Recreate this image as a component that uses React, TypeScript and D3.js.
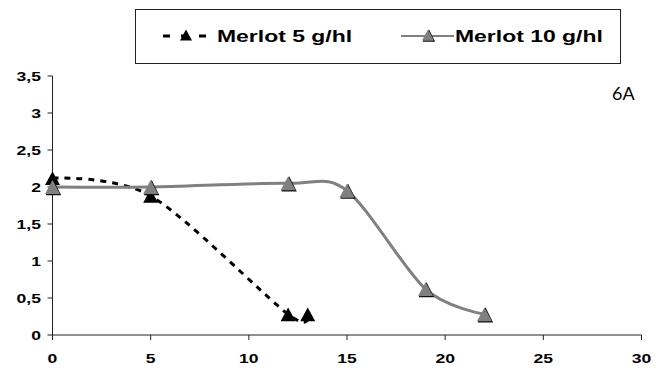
import React from "react";
import * as d3 from "d3";

const days5 = [0, 5, 12, 13];
const vals5 = [2.12, 1.88, 0.28, 0.28];
const days10 = [0, 5, 12, 15, 19, 22];
const vals10 = [2.0, 2.0, 2.05, 1.95, 0.62, 0.28];
const xTicks = [0, 5, 10, 15, 20, 25, 30];
const yTicks = [0, 0.5, 1, 1.5, 2, 2.5, 3, 3.5];
const yTickLabels = ["0", "0,5", "1", "1,5", "2", "2,5", "3", "3,5"];
const seriesNames = ["Merlot 5 g/hl", "Merlot 10 g/hl"];
const panelLabel = "6A";

const W = 663;
const H = 369;
const GRAY = "#808080";
const FONT = "'Liberation Sans', Arial, sans-serif";
const SX = 1.35;

function SText({ x, y, children, anchor = "start", size = 13, weight = "bold", sx = SX, family = FONT }: any) {
  return (
    <text
      transform={`translate(${x},${y}) scale(${sx},1)`}
      textAnchor={anchor}
      fontFamily={family}
      fontSize={size}
      fontWeight={weight}
      fill="#000"
    >
      {children}
    </text>
  );
}

function Tri({ cx, cy, fill, s = 13 }: any) {
  const h = s * 0.92;
  const p = `M${cx},${cy - h / 2} L${cx + s / 2},${cy + h / 2} L${cx - s / 2},${cy + h / 2} Z`;
  return (
    <g>
      {fill !== "#000" && (
        <path d={`M${cx - s / 2 + 1},${cy + h / 2 + 0.5} L${cx + s / 2},${cy + h / 2 + 0.5} L${cx + 0.5},${cy - h / 2 + 0.5}`} fill="none" stroke="#111" strokeWidth={1.5} />
      )}
      <path d={p} fill={fill} />
    </g>
  );
}

export default function App() {
  const x = d3.scaleLinear().domain([0, 30]).range([52.5, 641.5]);
  const y = d3.scaleLinear().domain([0, 3.5]).range([335, 76]);
  const line = d3
    .line<[number, number]>()
    .x((d) => x(d[0]))
    .y((d) => y(d[1]))
    .curve(d3.curveCardinal.tension(0.1));
  const pts5: [number, number][] = days5.map((d, i) => [d, vals5[i]]);
  const pts10: [number, number][] = days10.map((d, i) => [d, vals10[i]]);

  return (
    <svg width={W} height={H} style={{ position: "absolute", left: 0, top: 0, background: "#fff" }}>
      {/* legend */}
      <rect x={135.5} y={9.5} width={485} height={54} fill="#fff" stroke="#222" strokeWidth={1} />
      <line x1={163} x2={209} y1={36} y2={36} stroke="#000" strokeWidth={3} strokeDasharray="7,11" />
      <Tri cx={186} cy={35} fill="#000" s={12} />
      <SText x={217} y={42} size={17} sx={SX}>{seriesNames[0]}</SText>
      <line x1={401} x2={454} y1={36} y2={36} stroke={GRAY} strokeWidth={2} />
      <Tri cx={428} cy={35} fill={GRAY} s={12} />
      <SText x={455} y={42} size={17} sx={SX}>{seriesNames[1]}</SText>

      {/* axes */}
      <line x1={x(0)} x2={x(0)} y1={y(3.5)} y2={y(0)} stroke="#222" strokeWidth={1} />
      <line x1={x(0)} x2={x(30)} y1={y(0)} y2={y(0)} stroke="#222" strokeWidth={1} />
      {yTicks.map((t, i) => (
        <g key={"y" + i}>
          <line x1={x(0) - 5} x2={x(0)} y1={y(t)} y2={y(t)} stroke="#222" />
          <SText x={41} y={y(t) + 4.5} anchor="end" size={13}>{yTickLabels[i]}</SText>
        </g>
      ))}
      {xTicks.map((t, i) => (
        <g key={"x" + i}>
          <line x1={x(t)} x2={x(t)} y1={y(0)} y2={y(0) + 5} stroke="#222" />
          <SText x={x(t)} y={363} anchor="middle" size={13}>{String(t)}</SText>
        </g>
      ))}

      {/* panel label */}
      <SText x={612} y={100} size={18} weight="normal" sx={1} family="Lato, 'Open Sans', sans-serif">{panelLabel}</SText>

      {/* series */}
      <path d={line(pts5) || ""} fill="none" stroke="#000" strokeWidth={3} strokeDasharray="6,6" />
      {pts5.map((p, i) => (
        <Tri key={"a" + i} cx={x(p[0])} cy={y(p[1])} fill="#000" s={15} />
      ))}
      <path d={line(pts10) || ""} fill="none" stroke={GRAY} strokeWidth={3} />
      {pts10.map((p, i) => (
        <Tri key={"b" + i} cx={x(p[0])} cy={y(p[1])} fill={GRAY} s={15} />
      ))}
    </svg>
  );
}
